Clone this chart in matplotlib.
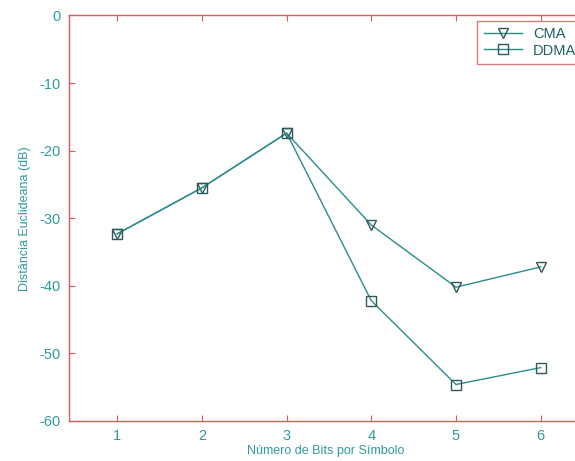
import matplotlib
matplotlib.use("Agg")
import matplotlib.pyplot as plt

bits = [1, 2, 3, 4, 5, 6]
cma = [-32.3, -25.5, -17.4, -31.0, -40.2, -37.2]
ddma = [-32.3, -25.5, -17.4, -42.2, -54.6, -52.1]
yticks = [0, -10, -20, -30, -40, -50, -60]

plt.rcParams['font.family'] = ['Liberation Sans', 'DejaVu Sans']
plt.rcParams['axes.unicode_minus'] = False

txt = '#2f9a9a'
line_c = '#2a8c8c'
frame_c = '#d85a5a'
mk_c = '#2f5858'

fig = plt.figure(figsize=(5.75, 4.61), dpi=100)
ax = fig.add_axes([69/575, 1 - 421/461, 514/575, (421 - 15.5)/461])

ax.plot(bits, cma, color=line_c, lw=1.0, marker='v', ms=7, mfc='none',
        mec=mk_c, mew=1.0, label='CMA')
ax.plot(bits, ddma, color=line_c, lw=1.0, marker='s', ms=6.5, mfc='none',
        mec=mk_c, mew=1.0, label='DDMA')

ax.set_xlim(0.43, 6.5)
ax.set_ylim(-60, 0)
ax.set_xticks(bits)
ax.set_yticks(yticks)
for s in ax.spines.values():
    s.set_color(frame_c)
    s.set_linewidth(1.0)
ax.tick_params(direction='in', length=4, colors=frame_c, labelcolor=txt,
               labelsize=10.5, top=True, right=True, pad=6)

ax.set_xlabel('Número de Bits por Símbolo', color=txt, fontsize=9, labelpad=1)
ax.set_ylabel('Distância Euclideana (dB)', color=txt, fontsize=9, labelpad=6)

leg = ax.legend(loc='upper right', bbox_to_anchor=(1.0, 0.987), fontsize=10.5,
                frameon=True, fancybox=False, borderaxespad=0.0,
                handlelength=2.6, labelspacing=0.15, borderpad=0.45)
leg.get_frame().set_edgecolor(frame_c)
leg.get_frame().set_linewidth(1.0)
for t in leg.get_texts():
    t.set_color('#1f5f6a')

fig.savefig('out.png', dpi=100)
